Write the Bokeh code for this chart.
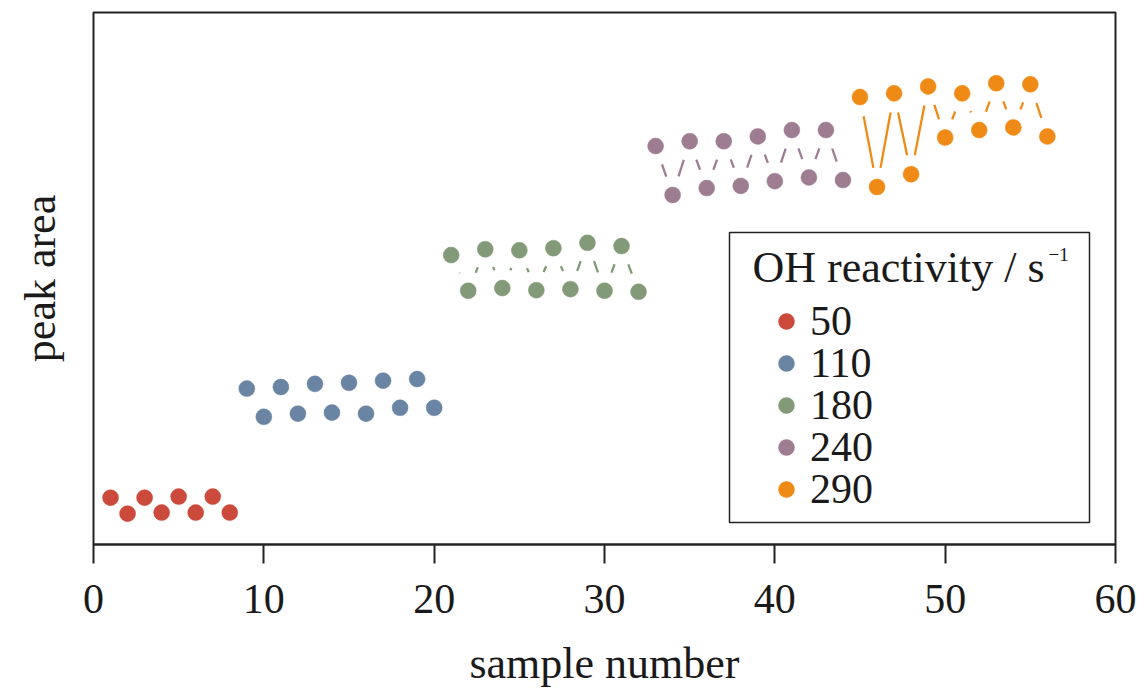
import math
from bokeh.plotting import figure
from bokeh.models import Range1d, Legend, LegendItem, FixedTicker, Label, BoxAnnotation
from bokeh.embed import file_html
from bokeh.resources import INLINE

# ---- data (y in arbitrary peak-area units) ----
reactivity = ["50", "110", "180", "240", "290"]
colors = ["#CB4A3B", "#6A84A3", "#829A78", "#9E7D92", "#F08A16"]

x_50 = list(range(1, 9))
y_50 = [8.8, 5.8, 8.8, 6.0, 9.0, 6.0, 9.0, 6.0]

x_110 = list(range(9, 21))
y_110 = [29.3, 24.0, 29.6, 24.6, 30.2, 24.8, 30.4, 24.6, 30.8, 25.7, 31.1, 25.7]

x_180 = list(range(21, 33))
y_180 = [54.4, 47.7, 55.5, 48.2, 55.3, 47.8, 55.7, 48.0, 56.7, 47.7, 56.1, 47.5]

x_240 = list(range(33, 45))
y_240 = [74.9, 65.7, 75.8, 67.0, 75.8, 67.4, 76.7, 68.3, 77.9, 69.0, 77.9, 68.5]

x_290 = list(range(45, 57))
y_290 = [84.1, 67.2, 84.8, 69.6, 86.1, 76.5, 84.8, 77.9, 86.7, 78.4, 86.5, 76.7]

x_ticks = [0, 10, 20, 30, 40, 50, 60]

legend_title = "OH reactivity / s"
legend_title_sup = "\u22121"

series = [(x_50, y_50), (x_110, y_110), (x_180, y_180), (x_240, y_240), (x_290, y_290)]

FONT = "Liberation Serif"
INK = "#1a1a1a"
W, H = 1144, 690
BL, BR, BT, BB = 93, 29, 12, 145
FW, FH = W - BL - BR, H - BT - BB
X0, X1 = 0, 60
Y0, Y1 = 0, 100

p = figure(width=W, height=H, output_backend="svg", toolbar_location=None,
           x_range=Range1d(X0, X1), y_range=Range1d(Y0, Y1),
           min_border_left=BL, min_border_right=BR, min_border_top=BT, min_border_bottom=BB)
p.background_fill_color = "white"
p.border_fill_color = "white"
p.outline_line_color = "#222222"
p.outline_line_width = 2
p.xgrid.visible = False
p.ygrid.visible = False

# x axis
p.xaxis.ticker = FixedTicker(ticks=x_ticks)
p.xaxis.axis_line_color = "#222222"
p.xaxis.axis_line_width = 2
p.xaxis.major_tick_line_color = "#222222"
p.xaxis.major_tick_line_width = 2
p.xaxis.major_tick_out = 19
p.xaxis.major_tick_in = 0
p.xaxis.minor_tick_line_color = None
p.xaxis.major_label_text_font = FONT
p.xaxis.major_label_text_font_size = "42px"
p.xaxis.major_label_text_color = INK
p.xaxis.major_label_standoff = 21
p.xaxis.axis_label = "sample number"
p.xaxis.axis_label_text_font = FONT
p.xaxis.axis_label_text_font_size = "44px"
p.xaxis.axis_label_text_font_style = "normal"
p.xaxis.axis_label_text_color = INK
p.xaxis.axis_label_standoff = 23

# y axis: label only
p.yaxis.ticker = FixedTicker(ticks=[])
p.yaxis.axis_line_color = None
p.yaxis.major_tick_line_color = None
p.yaxis.minor_tick_line_color = None
p.yaxis.major_tick_out = 0
p.yaxis.major_tick_in = 0
p.yaxis.major_label_standoff = 0
p.yaxis.axis_label = "peak area"
p.yaxis.axis_label_text_font = FONT
p.yaxis.axis_label_text_font_size = "44px"
p.yaxis.axis_label_text_font_style = "normal"
p.yaxis.axis_label_text_color = INK
p.yaxis.axis_label_standoff = 29

# R type="b": line segments between consecutive points with a gap around each point
GAP = 19.5  # px
sx = FW / (X1 - X0)
sy = FH / (Y1 - Y0)

renderers = []
for (xs, ys), col in zip(series, colors):
    x0s, y0s, x1s, y1s = [], [], [], []
    for i in range(len(xs) - 1):
        dxp = (xs[i + 1] - xs[i]) * sx
        dyp = (ys[i + 1] - ys[i]) * sy
        L = math.hypot(dxp, dyp)
        if L > 2 * GAP:
            t = GAP / L
            x0s.append(xs[i] + t * (xs[i + 1] - xs[i]))
            y0s.append(ys[i] + t * (ys[i + 1] - ys[i]))
            x1s.append(xs[i + 1] - t * (xs[i + 1] - xs[i]))
            y1s.append(ys[i + 1] - t * (ys[i + 1] - ys[i]))
    if x0s:
        p.segment(x0=x0s, y0=y0s, x1=x1s, y1=y1s, line_color=col, line_width=2.3)
    r = p.scatter(xs, ys, size=16, marker="circle", fill_color=col, line_color=col, line_width=0.5)
    renderers.append(r)

# ---- legend (screen px relative to the frame's bottom-left) ----
LEG_L, LEG_R, LEG_B, LEG_T = 636, 996, 22, 312
box = BoxAnnotation(left=LEG_L, right=LEG_R, bottom=LEG_B, top=LEG_T,
                    left_units="screen", right_units="screen",
                    bottom_units="screen", top_units="screen",
                    fill_color="white", fill_alpha=1.0,
                    line_color="#222222", line_alpha=1.0, line_width=1.5)
p.add_layout(box)

p.add_layout(Label(x=LEG_L + 23, y=277, x_units="screen", y_units="screen",
                   text=legend_title, text_font=FONT, text_font_size="44px",
                   text_color=INK, text_baseline="alphabetic", text_align="left"))
p.add_layout(Label(x=LEG_L + 319, y=290, x_units="screen", y_units="screen",
                   text=legend_title_sup, text_font=FONT, text_font_size="19px",
                   text_color=INK, text_baseline="alphabetic", text_align="left"))

ITEM_TOP_Y = 222     # first item centre, px above frame bottom
ITEM_PITCH = 42
HALF_ITEM = 23
for k, (r, lab) in enumerate(zip(renderers, reactivity)):
    centre = ITEM_TOP_Y - k * ITEM_PITCH
    lg = Legend(items=[LegendItem(label=lab, renderers=[r])],
                location=(LEG_L + 37, centre - HALF_ITEM),
                label_text_font=FONT, label_text_font_size="42px", label_text_color=INK,
                glyph_width=40, glyph_height=40, label_standoff=4, spacing=0,
                padding=0, margin=0,
                border_line_color=None, background_fill_alpha=0.0)
    p.add_layout(lg, "center")

open("out.html", "w").write(file_html(p, INLINE))
